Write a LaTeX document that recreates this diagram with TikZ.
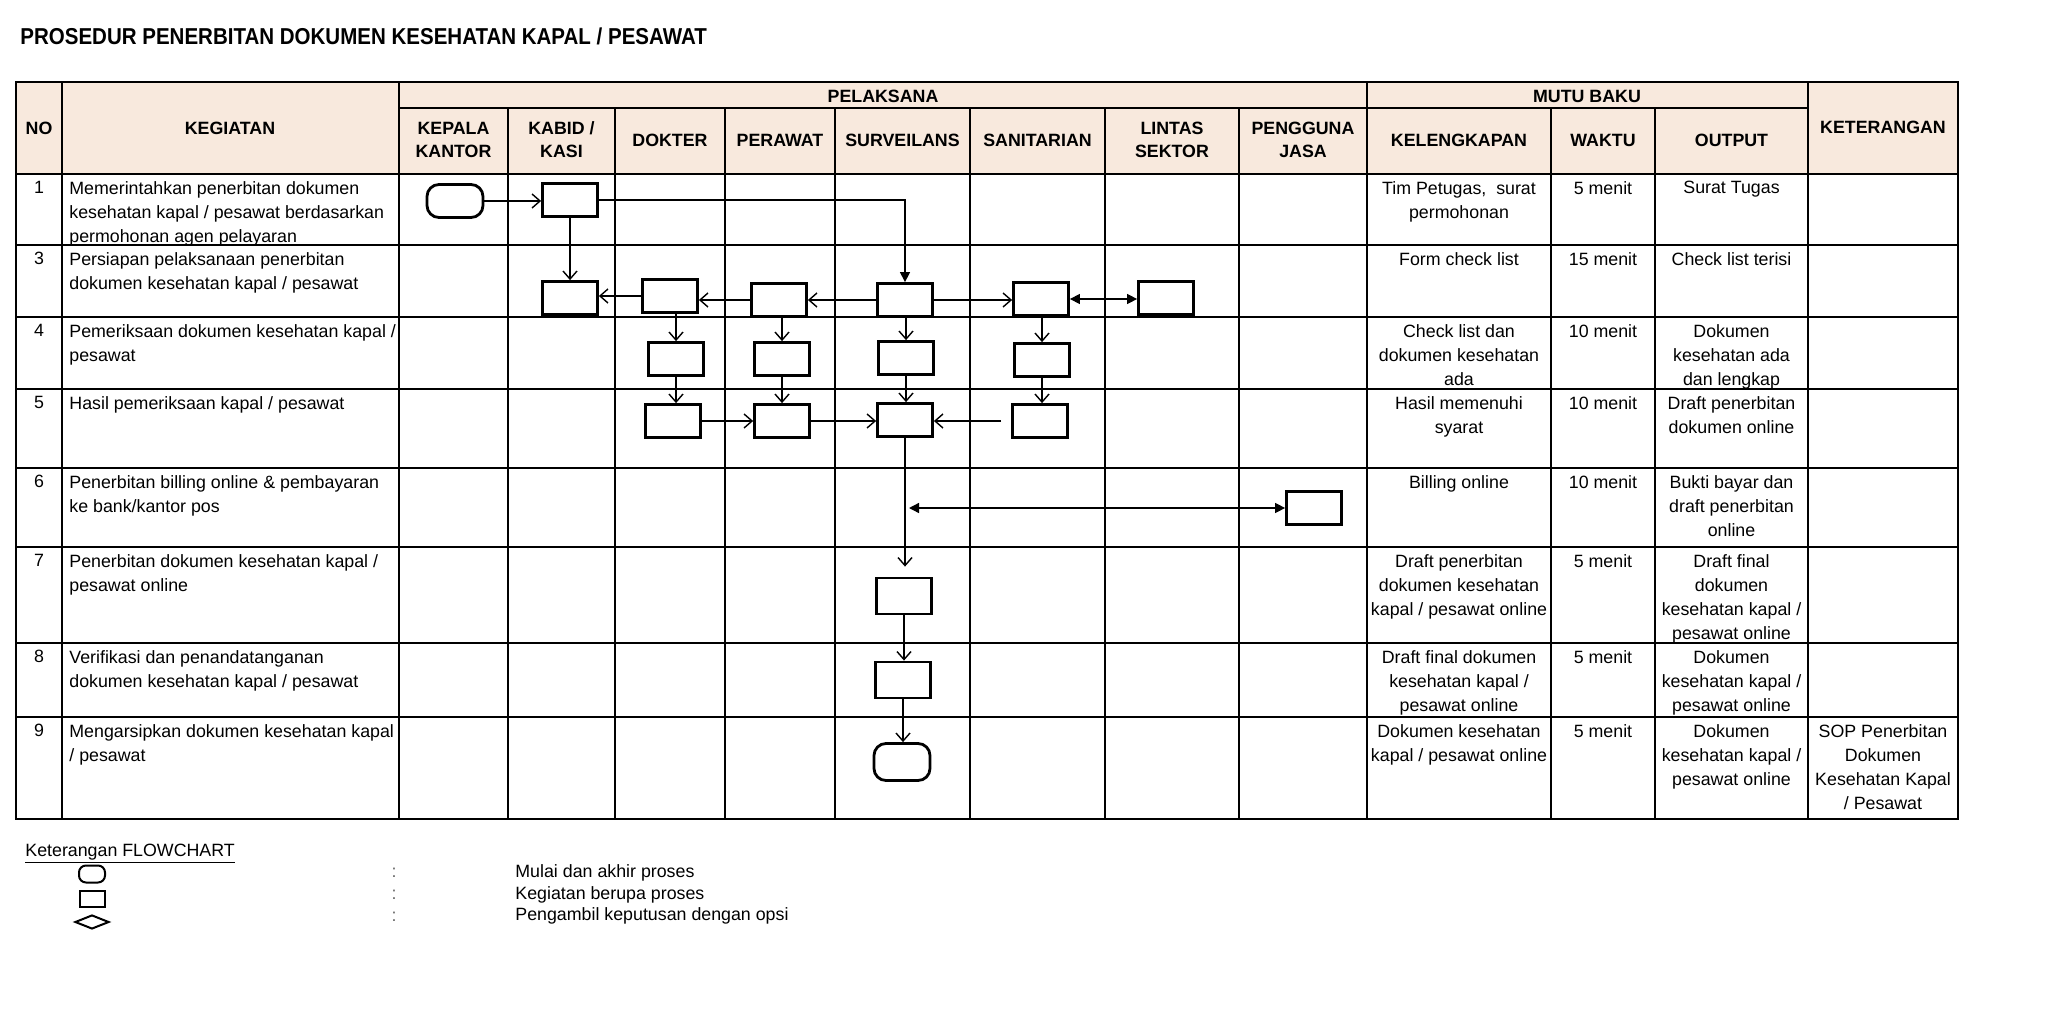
\documentclass[tikz,border=0pt]{standalone}
\usepackage{fontspec}
\setmainfont{Liberation Sans}
\newfontfamily\titlefont[FakeStretch=0.892]{Liberation Sans}
\usetikzlibrary{arrows.meta,shapes.geometric}
\definecolor{hdr}{RGB}{248,233,221}
\begin{document}
\begin{tikzpicture}[x=0.5pt,y=-0.5pt,
  grid/.style={line width=1.2pt, line cap=rect},
  fbox/.style={draw, line width=1.4pt, minimum width=27.5pt, minimum height=16.5pt, inner sep=0pt},
  term/.style={fbox, rounded corners=6pt, minimum width=28pt},
  flow/.style={line width=0.7pt, -{Straight Barb[length=4pt,width=7pt]}},
  fflow/.style={line width=0.7pt, -{Triangle[length=5pt,width=5pt]}},
  dflow/.style={line width=0.7pt, {Triangle[length=5pt,width=5pt]}-{Triangle[length=5pt,width=5pt]}},
  body/.style={font=\fontsize{8.9}{12}\selectfont, inner sep=0pt},
  ctext/.style={body, align=center, anchor=north},
  ltext/.style={body, align=left, anchor=north west},
  head/.style={font=\fontsize{8.9}{11.5}\selectfont\bfseries, align=center, inner sep=0pt},
]
\useasboundingbox (0,0) rectangle (2048,1010);

% title
\node[anchor=base west, inner sep=0pt, font=\titlefont\fontsize{11.5}{13}\selectfont\bfseries] (title) at (20,45)
  {PROSEDUR PENERBITAN DOKUMEN KESEHATAN KAPAL / PESAWAT};

% header fill and grid
\fill[hdr] (16,82) rectangle (1958,174);
\foreach \y in {82,174,245,317,389,468,547,643,717,819} \draw[grid] (16,\y) -- (1958,\y);
\draw[grid] (399,108) -- (1808,108);
\foreach \x in {16,62,399,1367,1808,1958} \draw[grid] (\x,82) -- (\x,819);
\foreach \x in {508,615,725,835,970,1105,1239,1551,1655} \draw[grid] (\x,108) -- (\x,819);

% header texts
\node[head] (hno) at (39,128) {NO};
\node[head] (hkeg) at (230,128) {KEGIATAN};
\node[head] (hpel) at (883,96) {PELAKSANA};
\node[head] (hmutu) at (1587,96) {MUTU BAKU};
\node[head] (hket) at (1883,127) {KETERANGAN};
\node[head] (hkk) at (453.5,140) {KEPALA\\KANTOR};
\node[head] (hkb) at (561.5,140) {KABID /\\KASI};
\node[head] (hdok) at (670,140) {DOKTER};
\node[head] (hper) at (780,140) {PERAWAT};
\node[head] (hsur) at (902.5,140) {SURVEILANS};
\node[head] (hsan) at (1037.5,140) {SANITARIAN};
\node[head] (hlin) at (1172,140) {LINTAS\\SEKTOR};
\node[head] (hpj) at (1303,140) {PENGGUNA\\JASA};
\node[head] (hkel) at (1459,140) {KELENGKAPAN};
\node[head] (hwak) at (1603,140) {WAKTU};
\node[head] (hout) at (1731.5,140) {OUTPUT};

% row numbers
\node[ctext] (n1) at (39,181) {1};
\node[ctext] (n3) at (39,252) {3};
\node[ctext] (n4) at (39,324) {4};
\node[ctext] (n5) at (39,396) {5};
\node[ctext] (n6) at (39,475) {6};
\node[ctext] (n7) at (39,554) {7};
\node[ctext] (n8) at (39,650) {8};
\node[ctext] (n9) at (39,724) {9};

% kegiatan
\node[ltext] (g1) at (69,181) {Memerintahkan penerbitan dokumen\\kesehatan kapal / pesawat berdasarkan\\permohonan agen pelayaran};
\node[ltext] (g3) at (69,252) {Persiapan pelaksanaan penerbitan\\dokumen kesehatan kapal / pesawat};
\node[ltext] (g4) at (69,324) {Pemeriksaan dokumen kesehatan kapal /\\pesawat};
\node[ltext] (g5) at (69,396) {Hasil pemeriksaan kapal / pesawat};
\node[ltext] (g6t) at (69,475) {Penerbitan billing online \& pembayaran\\ke bank/kantor pos};
\node[ltext] (g7) at (69,554) {Penerbitan dokumen kesehatan kapal /\\pesawat online};
\node[ltext] (g8) at (69,650) {Verifikasi dan penandatanganan\\dokumen kesehatan kapal / pesawat};
\node[ltext] (g9) at (69,724) {Mengarsipkan dokumen kesehatan kapal\\/ pesawat};

% kelengkapan
\node[ctext] (k1t) at (1459,181) {Tim Petugas,\ \ surat\\permohonan};
\node[ctext] (k3t) at (1459,252) {Form check list};
\node[ctext] (k4t) at (1459,324) {Check list dan\\dokumen kesehatan\\ada};
\node[ctext] (k5t) at (1459,396) {Hasil memenuhi\\syarat};
\node[ctext] (k6t) at (1459,475) {Billing online};
\node[ctext] (k7t) at (1459,554) {Draft penerbitan\\dokumen kesehatan\\kapal / pesawat online};
\node[ctext] (k8t) at (1459,650) {Draft final dokumen\\kesehatan kapal /\\pesawat online};
\node[ctext] (k9t) at (1459,724) {Dokumen kesehatan\\kapal / pesawat online};

% waktu
\node[ctext] (w1) at (1603,181) {5 menit};
\node[ctext] (w3) at (1603,252) {15 menit};
\node[ctext] (w4) at (1603,324) {10 menit};
\node[ctext] (w5) at (1603,396) {10 menit};
\node[ctext] (w6) at (1603,475) {10 menit};
\node[ctext] (w7) at (1603,554) {5 menit};
\node[ctext] (w8) at (1603,650) {5 menit};
\node[ctext] (w9) at (1603,724) {5 menit};

% output
\node[ctext] (o1) at (1731.5,181) {Surat Tugas};
\node[ctext] (o3) at (1731.5,252) {Check list terisi};
\node[ctext] (o4) at (1731.5,324) {Dokumen\\kesehatan ada\\dan lengkap};
\node[ctext] (o5) at (1731.5,396) {Draft penerbitan\\dokumen online};
\node[ctext] (o6) at (1731.5,475) {Bukti bayar dan\\draft penerbitan\\online};
\node[ctext] (o7) at (1731.5,554) {Draft final\\dokumen\\kesehatan kapal /\\pesawat online};
\node[ctext] (o8) at (1731.5,650) {Dokumen\\kesehatan kapal /\\pesawat online};
\node[ctext] (o9) at (1731.5,724) {Dokumen\\kesehatan kapal /\\pesawat online};

% keterangan
\node[ctext] (ket9) at (1883,724) {SOP Penerbitan\\Dokumen\\Kesehatan Kapal\\/ Pesawat};

% flow shapes
\node[term] (t1) at (455,201) {};
\node[fbox] (k1) at (570,200) {};
\node[fbox] (k3) at (570,298) {};
\node[fbox] (d3) at (670,296) {};
\node[fbox] (p3) at (779,300) {};
\node[fbox] (s3) at (905,300) {};
\node[fbox] (a3) at (1041,299) {};
\node[fbox] (l3) at (1166,298) {};
\node[fbox] (d4) at (676,359) {};
\node[fbox] (p4) at (782,359) {};
\node[fbox] (s4) at (906,358) {};
\node[fbox] (a4) at (1042,360) {};
\node[fbox] (d5) at (673,421) {};
\node[fbox] (p5) at (782,421) {};
\node[fbox] (s5) at (905,420) {};
\node[fbox] (a5) at (1040,421) {};
\node[fbox] (u6) at (1314,508) {};
\node[fbox, minimum height=18pt] (s7) at (904,596) {};
\node[fbox, minimum height=18pt] (s8) at (903,680) {};
\node[term, minimum height=18.5pt] (t9) at (902,762) {};

% connectors
\draw[flow] (t1.east) -- (t1.east -| k1.west);
\draw[fflow] (k1.east) -| (s3.north);
\draw[flow] (k1.south) -- (k1.south |- k3.north);
\draw[flow] (d3.west) -- (d3.west -| k3.east);
\draw[flow] (p3.west) -- (p3.west -| d3.east);
\draw[flow] (s3.west) -- (s3.west -| p3.east);
\draw[flow] (s3.east) -- (s3.east -| a3.west);
\draw[dflow] (a3.east) -- (a3.east -| l3.west);
\draw[flow] (d4.north |- d3.south) -- (d4.north);
\draw[flow] (p4.north |- p3.south) -- (p4.north);
\draw[flow] (s4.north |- s3.south) -- (s4.north);
\draw[flow] (a4.north |- a3.south) -- (a4.north);
\draw[flow] (d4.south) -- (d4.south |- d5.north);
\draw[flow] (p4.south) -- (p4.south |- p5.north);
\draw[flow] (s4.south) -- (s4.south |- s5.north);
\draw[flow] (a4.south) -- (a4.south |- a5.north);
\draw[flow] (d5.east) -- (d5.east -| p5.west);
\draw[flow] (p5.east) -- (p5.east -| s5.west);
\draw[flow, shorten <=5pt] (a5.west) -- (a5.west -| s5.east);
\draw[flow, shorten >=5pt] (s5.south) -- (s5.south |- s7.north);
\coordinate (c6) at (909,508);
\draw[dflow] (c6) -- (u6.west);
\draw[flow] (s7.south) -- (s7.south |- s8.north);
\draw[flow] (s8.south) -- (s8.south |- t9.north);

% legend
\node[body, anchor=base west] (leg) at (25,856) {\underline{Keterangan FLOWCHART}};
\node[draw, line width=1pt, rounded corners=3.5pt, minimum width=13pt, minimum height=8.5pt, inner sep=0pt] (lt) at (92,874) {};
\node[draw, line width=1pt, minimum width=12.5pt, minimum height=8pt, inner sep=0pt] (lr) at (92,899) {};
\node[draw, diamond, aspect=2.4, line width=1pt, minimum width=17pt, minimum height=7pt, inner sep=0pt] (ld) at (92,922) {};
\node[body, text=black!60] (c1) at (394,873) {:};
\node[body, text=black!60] (c2) at (394,895) {:};
\node[body, text=black!60] (c3) at (394,917) {:};
\node[body, anchor=base west] (lx1) at (515,877) {Mulai dan akhir proses};
\node[body, anchor=base west] (lx2) at (515,899) {Kegiatan berupa proses};
\node[body, anchor=base west] (lx3) at (515,920) {Pengambil keputusan dengan opsi};
\end{tikzpicture}
\end{document}
